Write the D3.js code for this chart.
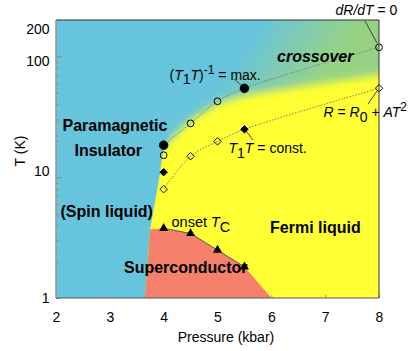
<!DOCTYPE html>
<html lang="en">
<head>
<meta charset="UTF-8" />
<title>Phase diagram</title>
<script src="https://d3js.org/d3.v7.min.js"></script>
<style>
    body { margin: 0; background: #fff; }
    svg text { font-family: "Liberation Sans", Arial, Helvetica, sans-serif; fill: #000; }
</style>
</head>
<body>
<script>
    var w = 415;
    var h = 351;
    var margin = {top: 20, right: 36, bottom: 53, left: 56};

    // axis ticks
    var pressureTicks = [2, 3, 4, 5, 6, 7, 8];
    var tempTicks = [1, 10, 100, 200];
    var tempTickNudge = [0, -6, 5, 9]; // labels sit a little off their ticks in the original

    // insulator boundary (left edge of the metallic region), bottom to top
    var edgeP = [3.65, 3.75, 3.92, 4.0, 4.08, 3.6, 2.0];
    var edgeT = [1, 3.7, 10, 17.5, 22, 40, 40];

    // middle of the fade between Fermi liquid and the crossover region
    var crossP = [2.0, 3.9, 4.0, 4.5, 5.0, 5.5, 6.5, 8.0, 8.8];
    var crossT = [16.5, 17, 18, 30, 41, 48, 56, 70, 74];

    // superconducting dome: onset Tc
    var tcP = [4.0, 4.5, 5.0, 5.5];
    var tcT = [3.77, 3.42, 2.49, 1.81];
    var scEndP = 6.0;

    // (T1T)^-1 = max. and dR/dT = 0 (circles)
    var circP = [4.0, 4.0, 4.5, 5.0, 5.5, 8.0];
    var circT = [18.4, 15.2, 27.9, 42.5, 54.4, 118.7];
    var circFilled = [true, false, false, false, true, false];
    var circOnCurve = [true, false, true, true, true, true];

    // T1T = const. and R = R0 + AT^2 (diamonds)
    var diaP = [4.0, 4.0, 4.5, 5.0, 5.5, 8.0];
    var diaT = [11.0, 7.96, 14.9, 19.8, 24.9, 54.4];
    var diaFilled = [true, false, false, false, true, false];
    var diaOnCurve = [false, true, true, true, true, true];

    var cyan = "#66c4dc";
    var yellow = "#ffff33";
    var salmon = "#f5806b";
    var green = "#97d283";

    var svg = d3.select("body")
                .append("svg")
                .attr("width", w)
                .attr("height", h);

    var x = d3.scaleLinear()
        .domain([2, 8])
        .range([margin.left, w - margin.right]);

    var y = d3.scaleLog()
        .domain([1, 200])
        .range([h - margin.bottom, margin.top]);

    var pw = x.range()[1] - x.range()[0];
    var ph = y.range()[0] - y.range()[1];

    var line = d3.line()
        .x(function(d){ return x(d[0]); })
        .y(function(d){ return y(d[1]); });

    var defs = svg.append("defs");

    defs.append("clipPath").attr("id", "plotClip")
        .append("rect")
        .attr("x", margin.left).attr("y", margin.top)
        .attr("width", pw).attr("height", ph);

    defs.append("filter")
        .attr("id", "soft")
        .attr("filterUnits", "userSpaceOnUse")
        .attr("x", -200).attr("y", -300).attr("width", 900).attr("height", 900)
        .append("feGaussianBlur")
        .attr("stdDeviation", 4.5);

    var grad = defs.append("linearGradient")
        .attr("id", "crossGrad")
        .attr("gradientUnits", "userSpaceOnUse")
        .attr("x1", x(5.5)).attr("y1", y(120))
        .attr("x2", x(6.8)).attr("y2", y(50));
    grad.append("stop").attr("offset", 0).attr("stop-color", cyan);
    grad.append("stop").attr("offset", 0.5).attr("stop-color", "#82cbb0");
    grad.append("stop").attr("offset", 1).attr("stop-color", green);

    var plot = svg.append("g").attr("clip-path", "url(#plotClip)");

    // metallic background
    plot.append("rect")
        .attr("x", margin.left).attr("y", margin.top)
        .attr("width", pw).attr("height", ph)
        .attr("fill", yellow);

    // crossover fade
    var upper = d3.zip(crossP, crossT);
    upper.push([crossP[crossP.length - 1], 2000], [1.0, 2000], [1.0, crossT[0]]);
    plot.append("path")
        .attr("d", line(upper) + "Z")
        .attr("fill", "url(#crossGrad)")
        .attr("filter", "url(#soft)");

    // insulator
    var ins = d3.zip(edgeP, edgeT);
    ins.push([1.0, 40], [1.0, 0.5], [edgeP[0], 0.5]);
    plot.append("path")
        .attr("d", line(ins) + "Z")
        .attr("fill", cyan);

    // superconductor
    var sc = [[edgeP[0], edgeT[0]], [edgeP[1], edgeT[1]]]
        .concat(d3.zip(tcP, tcT))
        .concat([[scEndP, 1]]);
    plot.append("path")
        .attr("d", line(sc) + "Z")
        .attr("fill", salmon);

    plot.append("path")
        .attr("d", line(d3.zip(tcP, tcT)))
        .attr("fill", "none")
        .attr("stroke", "#555")
        .attr("stroke-width", 1);

    // dotted guide curves
    var curve = d3.line()
        .x(function(d){ return x(d[0]); })
        .y(function(d){ return y(d[1]); })
        .curve(d3.curveCatmullRom);

    var circPts = d3.zip(circP, circT).filter(function(d, i){ return circOnCurve[i]; });
    var diaPts = d3.zip(diaP, diaT).filter(function(d, i){ return diaOnCurve[i]; });

    [circPts, diaPts].forEach(function(pts){
        svg.append("path")
            .attr("d", curve(pts))
            .attr("fill", "none")
            .attr("stroke", "#7d7d7d")
            .attr("stroke-width", 1)
            .attr("stroke-dasharray", "1.5,1.5");
    });

    // leader lines
    var leaders = [[365, 21, 377, 43], [234, 79, 241, 85], [368, 104, 377, 91], [246, 131, 253, 140]];
    svg.selectAll(".leader")
        .data(leaders)
        .enter()
        .append("line")
        .attr("x1", function(d){ return d[0]; })
        .attr("y1", function(d){ return d[1]; })
        .attr("x2", function(d){ return d[2]; })
        .attr("y2", function(d){ return d[3]; })
        .attr("stroke", "#333")
        .attr("stroke-width", 0.9);

    // markers
    svg.selectAll(".circ")
        .data(d3.range(circP.length))
        .enter()
        .append("path")
        .attr("d", function(i){ return d3.symbol().type(d3.symbolCircle).size(circFilled[i] ? 56 : 36)(); })
        .attr("transform", function(i){ return "translate(" + x(circP[i]) + "," + y(circT[i]) + ")"; })
        .attr("fill", function(i){ return circFilled[i] ? "#000" : "none"; })
        .attr("stroke", "#000")
        .attr("stroke-width", 1);

    svg.selectAll(".dia")
        .data(d3.range(diaP.length))
        .enter()
        .append("path")
        .attr("d", d3.symbol().type(d3.symbolSquare).size(28)())
        .attr("transform", function(i){ return "translate(" + x(diaP[i]) + "," + y(diaT[i]) + ") rotate(45)"; })
        .attr("fill", function(i){ return diaFilled[i] ? "#000" : "none"; })
        .attr("stroke", "#000")
        .attr("stroke-width", 0.9);

    svg.selectAll(".tri")
        .data(d3.zip(tcP, tcT))
        .enter()
        .append("path")
        .attr("d", d3.symbol().type(d3.symbolTriangle).size(36)())
        .attr("transform", function(d){ return "translate(" + x(d[0]) + "," + y(d[1]) + ")"; })
        .attr("fill", "#000");

    // region names
    var bold = [
        ["Paramagnetic", 62.5, 130.5, "normal"],
        ["Insulator", 74.5, 155.5, "normal"],
        ["(Spin liquid)", 60.5, 216.5, "normal"],
        ["Superconductor", 124, 272.5, "normal"],
        ["Fermi liquid", 270, 232.5, "normal"],
        ["crossover", 277, 61.5, "italic"]
    ];
    svg.selectAll(".region")
        .data(bold)
        .enter()
        .append("text")
        .attr("x", function(d){ return d[1]; })
        .attr("y", function(d){ return d[2]; })
        .attr("font-size", 16)
        .attr("font-weight", "bold")
        .attr("font-style", function(d){ return d[3]; })
        .text(function(d){ return d[0]; });

    // text with sub/superscripts: parts are [text, italic, shift]
    function rich(px, py, parts, size){
        size = size || 14;
        var t = svg.append("text").attr("x", px).attr("y", py).attr("font-size", size);
        var cur = 0;
        parts.forEach(function(p){
            var s = p[2] || 0;
            t.append("tspan")
                .attr("dy", s - cur)
                .attr("font-style", p[1] ? "italic" : "normal")
                .attr("font-size", s < 0 ? size - 2 : size)
                .text(p[0]);
            cur = s;
        });
    }
    rich(335.5, 15, [["dR/dT", 1], [" = 0", 0]]);
    rich(169.5, 80, [["(", 0], ["T", 1], ["1", 0, 4], ["T", 1], [")", 0], ["-1", 0, -6], [" = max.", 0]]);
    rich(323.5, 117, [["R", 1], [" = ", 0], ["R", 1], ["0", 0, 5], [" + ", 0], ["AT", 1], ["2", 0, -6]]);
    rich(228.5, 153, [["T", 1], ["1", 0, 5], ["T", 1], [" = const.", 0]]);
    rich(171.5, 226.5, [["onset ", 0], ["T", 1], ["C", 0, 5]], 14.5);

    // axes
    var xAxis = d3.axisBottom(x)
        .tickValues(pressureTicks)
        .tickSizeInner(-3)
        .tickSizeOuter(0)
        .tickPadding(14.5)
        .tickFormat(d3.format("d"));
    var gx = svg.append("g")
        .attr("transform", "translate(0," + y.range()[0] + ")")
        .call(xAxis);
    gx.select(".domain").remove();
    gx.selectAll("line").attr("stroke", "#999");
    gx.selectAll("text").attr("font-size", 14).attr("font-family", null);

    var yAxis = d3.axisLeft(y)
        .tickValues(y.ticks())
        .tickSizeInner(-3)
        .tickSizeOuter(0)
        .tickPadding(6.5)
        .tickFormat(function(d){ return tempTicks.indexOf(d) >= 0 ? d : ""; });
    var gy = svg.append("g")
        .attr("transform", "translate(" + x.range()[0] + ",0)")
        .call(yAxis);
    gy.select(".domain").remove();
    gy.selectAll("line")
        .attr("stroke", "#888")
        .attr("x2", function(d){ return (d === 10 || d === 100) ? 6 : 3; });
    gy.selectAll("text")
        .attr("font-size", 14)
        .attr("font-family", null)
        .attr("y", function(d){ var k = tempTicks.indexOf(d); return k >= 0 ? tempTickNudge[k] : 0; });

    // frame
    var x0 = x.range()[0], x1 = x.range()[1], y0 = y.range()[0], y1 = y.range()[1];
    svg.append("line").attr("x1", x0).attr("y1", y1).attr("x2", x1).attr("y2", y1)
        .attr("stroke", "#333").attr("stroke-width", 1);
    svg.append("line").attr("x1", x1).attr("y1", y1).attr("x2", x1).attr("y2", y0)
        .attr("stroke", "#333").attr("stroke-width", 1);
    svg.append("line").attr("x1", x0).attr("y1", y0).attr("x2", x1).attr("y2", y0)
        .attr("stroke", "#555").attr("stroke-width", 1);
    svg.append("line").attr("x1", x0).attr("y1", y1).attr("x2", x0).attr("y2", y0)
        .attr("stroke", "#999").attr("stroke-width", 1.6);

    // axis titles
    svg.append("text")
        .attr("x", (x0 + x1) / 2 + 8.5)
        .attr("y", 342)
        .attr("text-anchor", "middle")
        .attr("font-size", 14)
        .text("Pressure (kbar)");

    svg.append("text")
        .attr("transform", "translate(25,151) rotate(-90)")
        .attr("text-anchor", "middle")
        .attr("font-size", 14)
        .text("T (K)");
</script>
</body>
</html>
